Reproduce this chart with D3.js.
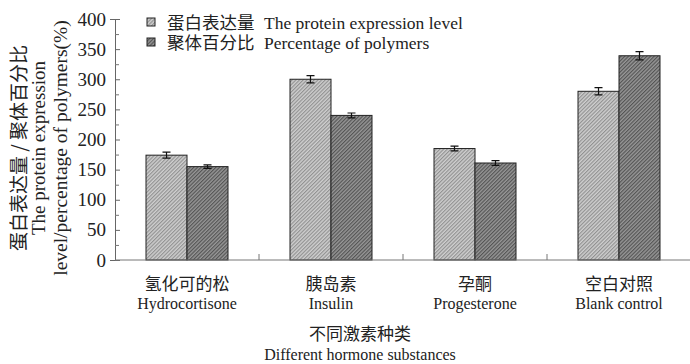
<!DOCTYPE html>
<html>
<head>
<meta charset="utf-8">
<script src="https://cdn.jsdelivr.net/npm/d3@7"></script>
<style>
  body { margin: 0; background: #fff; }
  svg text { font-family: "Liberation Serif", "Noto Sans CJK SC", serif; fill: #222; }
  svg .cjk { font-family: "Noto Sans CJK SC", sans-serif; }
</style>
</head>
<body>
<div id="chart"></div>
<script>
const categoriesCn = ["氢化可的松", "胰岛素", "孕酮", "空白对照"];
const categoriesEn = ["Hydrocortisone", "Insulin", "Progesterone", "Blank control"];
const seriesCn = ["蛋白表达量", "聚体百分比"];
const seriesEn = ["The protein expression level", "Percentage of polymers"];
const proteinLevel = [174, 300, 185, 280];
const proteinErr = [5, 6, 4, 6];
const polymerPct = [155, 240, 161, 339];
const polymerErr = [3, 4, 4, 7];
const yTicks = [0, 50, 100, 150, 200, 250, 300, 350, 400];

const W = 690, H = 364;
const svg = d3.select("#chart").append("svg").attr("width", W).attr("height", H);

const defs = svg.append("defs");
function hatch(id, bg, line) {
  const p = defs.append("pattern").attr("id", id).attr("patternUnits", "userSpaceOnUse")
    .attr("width", 2.6).attr("height", 2.6).attr("patternTransform", "rotate(45)");
  p.append("rect").attr("width", 2.6).attr("height", 2.6).attr("fill", bg);
  p.append("line").attr("x1", 0.6).attr("y1", 0).attr("x2", 0.6).attr("y2", 2.6)
    .attr("stroke", line).attr("stroke-width", 1.1);
}
hatch("h1", "#cfcfcf", "#8e8e8e");
hatch("h2", "#979797", "#505050");

const x0 = 115, x1 = 691, yTop = 19, yBot = 260;
const x = d3.scaleBand().domain(categoriesEn).range([x0, x1]);
const xs = d3.scaleBand().domain([0, 1]).range([0, 82]);
const y = d3.scaleLinear().domain([0, 400]).range([yBot, yTop]);

const series = [
  { vals: proteinLevel, err: proteinErr, fill: "url(#h1)" },
  { vals: polymerPct, err: polymerErr, fill: "url(#h2)" }
];

// bars + error bars
series.forEach((s, si) => {
  const g = svg.append("g");
  categoriesEn.forEach((c, i) => {
    const bx = x(c) + (x.bandwidth() - 82) / 2 + xs(si);
    g.append("rect").attr("x", bx).attr("y", y(s.vals[i]))
      .attr("width", xs.bandwidth()).attr("height", yBot - y(s.vals[i]))
      .attr("fill", s.fill).attr("stroke", "#222").attr("stroke-width", 1);
    const cx = bx + xs.bandwidth() / 2;
    const hi = y(s.vals[i] + s.err[i]), lo = y(s.vals[i] - s.err[i]);
    const e = d3.path();
    e.moveTo(cx, hi); e.lineTo(cx, lo);
    e.moveTo(cx - 4, hi); e.lineTo(cx + 4, hi);
    e.moveTo(cx - 4, lo); e.lineTo(cx + 4, lo);
    g.append("path").attr("d", e.toString()).attr("stroke", "#111").attr("stroke-width", 1.2).attr("fill", "none");
  });
});

// y axis
const yAxis = svg.append("g").attr("transform", `translate(${x0},0)`)
  .call(d3.axisLeft(y).tickValues(yTicks).tickSize(5).tickPadding(4));
yAxis.select(".domain").attr("stroke", "#666");
yAxis.selectAll(".tick line").attr("stroke", "#666").attr("x2", 5);
yAxis.selectAll(".tick text").attr("font-size", 19).attr("font-family", "Liberation Serif").attr("fill", "#222");
svg.append("g").attr("transform", `translate(${x0},0)`)
  .call(d3.axisRight(y).tickValues(d3.range(25, 400, 50)).tickSize(4).tickFormat(""))
  .call(g => g.select(".domain").remove())
  .selectAll("line").attr("stroke", "#777");

// x axis with category separators
const xAxisG = svg.append("g").attr("transform", `translate(0,${yBot})`);
xAxisG.append("line").attr("x1", x0).attr("x2", x1).attr("stroke", "#777");
xAxisG.selectAll(".sep").data(categoriesEn).join("line")
  .attr("x1", d => x(d) + x.step()).attr("x2", d => x(d) + x.step())
  .attr("y1", 0).attr("y2", -6).attr("stroke", "#777");

categoriesEn.forEach((c, i) => {
  const cx = x(c) + x.bandwidth() / 2;
  svg.append("text").attr("class", "cjk").attr("x", cx).attr("y", 290).attr("text-anchor", "middle")
    .attr("font-size", 17).text(categoriesCn[i]);
  svg.append("text").attr("x", cx).attr("y", 309).attr("text-anchor", "middle")
    .attr("font-size", 16).text(c);
});
svg.append("text").attr("class", "cjk").attr("x", 360).attr("y", 340).attr("text-anchor", "middle")
  .attr("font-size", 17).text("不同激素种类");
svg.append("text").attr("x", 360).attr("y", 360).attr("text-anchor", "middle")
  .attr("font-size", 16).text("Different hormone substances");

// y title
const yt = svg.append("g").attr("transform", "translate(0,148) rotate(-90)");
yt.append("text").attr("class", "cjk").attr("x", 0).attr("y", 26).attr("text-anchor", "middle")
  .attr("font-size", 19).text("蛋白表达量 / 聚体百分比");
yt.append("text").attr("x", 0).attr("y", 45).attr("text-anchor", "middle")
  .attr("font-size", 19).text("The protein expression");
yt.append("text").attr("x", 0).attr("y", 67).attr("text-anchor", "middle")
  .attr("font-size", 19.5).text("level/percentage of polymers(%)");

// legend
seriesCn.forEach((n, i) => {
  const ly = 28.5 + i * 20;
  svg.append("rect").attr("x", 147).attr("y", ly - 10.5).attr("width", 8).attr("height", 8)
    .attr("fill", series[i].fill).attr("stroke", "#222").attr("stroke-width", 1);
  svg.append("text").attr("class", "cjk").attr("x", 167).attr("y", ly)
    .attr("font-size", 17.5).text(n);
  svg.append("text").attr("x", 264).attr("y", ly)
    .attr("font-size", 17.5).text(seriesEn[i]);
});
</script>
</body>
</html>
